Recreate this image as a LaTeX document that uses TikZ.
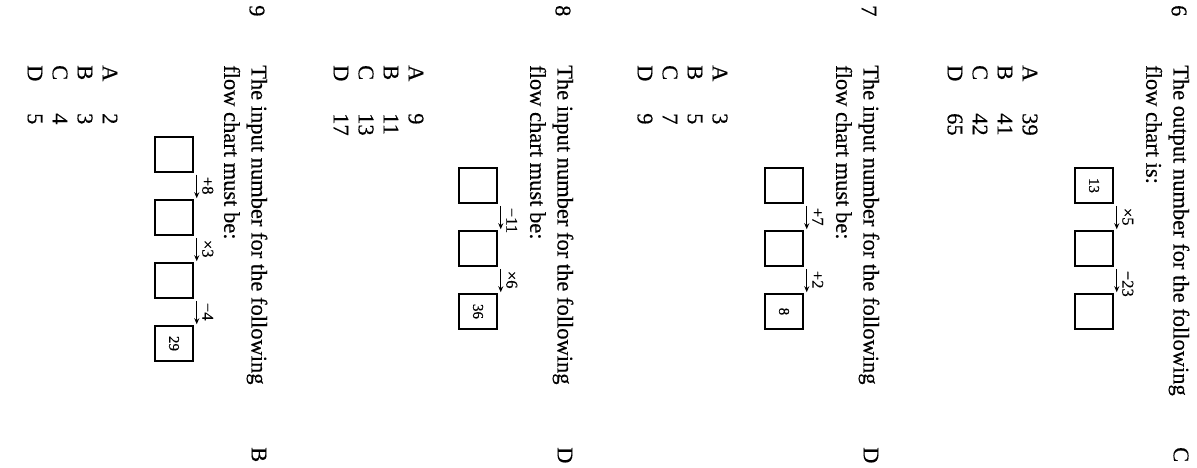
\documentclass[tikz,border=0pt]{standalone}
\usepackage{fontspec}
\setmainfont{Liberation Serif}
\newfontfamily\scanfont{Liberation Serif}[FakeBold=0.35]
\usetikzlibrary{arrows.meta,calc}
\tikzset{
  txt/.style={rotate=-90,anchor=west,inner sep=0pt,font=\scanfont\fontsize{22.5}{25}\selectfont},
  boxst/.style={draw,rotate=-90,minimum width=35pt,minimum height=38pt,inner sep=0pt,line width=1.5pt,font=\scanfont\fontsize{15}{16}\selectfont},
  lab/.style={rotate=-90,anchor=west,inner sep=0pt,font=\scanfont\fontsize{16.5}{17}\selectfont},
  arr/.style={line width=1.1pt,-{Stealth[length=6pt,width=5pt]}}
}
\begin{document}
\begin{tikzpicture}[x=1pt,y=-1pt]
\useasboundingbox (0,0) rectangle (1197,468);
% ---------------- Question 6 ----------------
\node[txt] (n6) at (1179,5) {6};
\node[txt] (q6a) at (1179,65) {The output number for the following};
\node[txt] (q6b) at (1154,65) {flow chart is:};
\node[txt] (q6k) at (1181,447) {C};
\node[boxst] (q6x1) at (1094,185.5) {13};
\node[boxst] (q6x2) at (1094,248.5) {};
\node[boxst] (q6x3) at (1094,311.5) {};
\draw[arr] ($(q6x1.north east)+(3,2)$) -- ($(q6x2.north west)+(3,-1)$);
\draw[arr] ($(q6x2.north east)+(3,2)$) -- ($(q6x3.north west)+(3,-1)$);
\node[lab] (q6o1) at ($(q6x1.north east)+(14,4)$) {×5};
\node[lab] (q6o2) at ($(q6x2.north east)+(14,4)$) {−23};
\node[txt] (q6A) at (1030,65) {A}; \node[txt] (q6Av) at (1030,113) {39};
\node[txt] (q6B) at (1005,65) {B}; \node[txt] (q6Bv) at (1005,113) {41};
\node[txt] (q6C) at (980,65) {C};  \node[txt] (q6Cv) at (980,113) {42};
\node[txt] (q6D) at (955,65) {D};  \node[txt] (q6Dv) at (955,113) {65};
% ---------------- Question 7 ----------------
\node[txt] (n7) at (869,5) {7};
\node[txt] (q7a) at (869,65) {The input number for the following};
\node[txt] (q7b) at (844,65) {flow chart must be:};
\node[txt] (q7k) at (871,447) {D};
\node[boxst] (q7x1) at (784,185.5) {};
\node[boxst] (q7x2) at (784,248.5) {};
\node[boxst] (q7x3) at (784,311.5) {8};
\draw[arr] ($(q7x1.north east)+(3,2)$) -- ($(q7x2.north west)+(3,-1)$);
\draw[arr] ($(q7x2.north east)+(3,2)$) -- ($(q7x3.north west)+(3,-1)$);
\node[lab] (q7o1) at ($(q7x1.north east)+(14,4)$) {+7};
\node[lab] (q7o2) at ($(q7x2.north east)+(14,4)$) {+2};
\node[txt] (q7A) at (720,65) {A}; \node[txt] (q7Av) at (720,113) {3};
\node[txt] (q7B) at (695,65) {B}; \node[txt] (q7Bv) at (695,113) {5};
\node[txt] (q7C) at (670,65) {C}; \node[txt] (q7Cv) at (670,113) {7};
\node[txt] (q7D) at (645,65) {D}; \node[txt] (q7Dv) at (645,113) {9};
% ---------------- Question 8 ----------------
\node[txt] (n8) at (563,5) {8};
\node[txt] (q8a) at (563,65) {The input number for the following};
\node[txt] (q8b) at (538,65) {flow chart must be:};
\node[txt] (q8k) at (565,447) {D};
\node[boxst] (q8x1) at (478,185.5) {};
\node[boxst] (q8x2) at (478,248.5) {};
\node[boxst] (q8x3) at (478,311.5) {36};
\draw[arr] ($(q8x1.north east)+(3,2)$) -- ($(q8x2.north west)+(3,-1)$);
\draw[arr] ($(q8x2.north east)+(3,2)$) -- ($(q8x3.north west)+(3,-1)$);
\node[lab] (q8o1) at ($(q8x1.north east)+(14,4)$) {−11};
\node[lab] (q8o2) at ($(q8x2.north east)+(14,4)$) {×6};
\node[txt] (q8A) at (416,65) {A}; \node[txt] (q8Av) at (416,113) {9};
\node[txt] (q8B) at (391,65) {B}; \node[txt] (q8Bv) at (391,113) {11};
\node[txt] (q8C) at (366,65) {C}; \node[txt] (q8Cv) at (366,113) {13};
\node[txt] (q8D) at (341,65) {D}; \node[txt] (q8Dv) at (341,113) {17};
% ---------------- Question 9 ----------------
\node[txt] (n9) at (257,5) {9};
\node[txt] (q9a) at (257,65) {The input number for the following};
\node[txt] (q9b) at (232,65) {flow chart must be:};
\node[txt] (q9k) at (259,447) {B};
\node[boxst] (q9x1) at (174,154.5) {};
\node[boxst] (q9x2) at (174,217.5) {};
\node[boxst] (q9x3) at (174,280.5) {};
\node[boxst] (q9x4) at (174,343.5) {29};
\draw[arr] ($(q9x1.north east)+(3,2)$) -- ($(q9x2.north west)+(3,-1)$);
\draw[arr] ($(q9x2.north east)+(3,2)$) -- ($(q9x3.north west)+(3,-1)$);
\draw[arr] ($(q9x3.north east)+(3,2)$) -- ($(q9x4.north west)+(3,-1)$);
\node[lab] (q9o1) at ($(q9x1.north east)+(14,4)$) {+8};
\node[lab] (q9o2) at ($(q9x2.north east)+(14,4)$) {×3};
\node[lab] (q9o3) at ($(q9x3.north east)+(14,4)$) {−4};
\node[txt] (q9A) at (110,65) {A}; \node[txt] (q9Av) at (110,113) {2};
\node[txt] (q9B) at (85,65) {B};  \node[txt] (q9Bv) at (85,113) {3};
\node[txt] (q9C) at (60,65) {C};  \node[txt] (q9Cv) at (60,113) {4};
\node[txt] (q9D) at (35,65) {D};  \node[txt] (q9Dv) at (35,113) {5};
\end{tikzpicture}
\end{document}
